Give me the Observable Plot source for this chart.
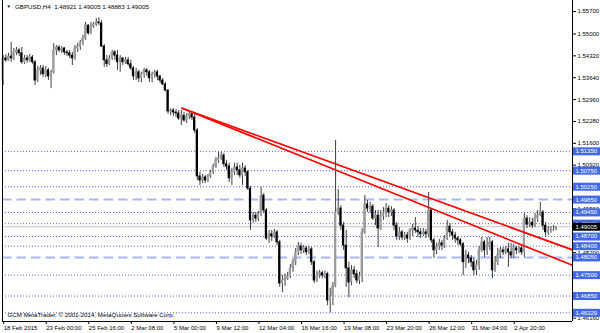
<!DOCTYPE html>
<html>
<head>
<meta charset="utf-8">
<script src="https://cdn.jsdelivr.net/npm/d3@7"></script>
<script src="https://cdn.jsdelivr.net/npm/@observablehq/plot@0.6"></script>
<style>
  html, body { margin: 0; padding: 0; background: #fff; }
  #chart { width: 600px; height: 333px; }
</style>
</head>
<body>
<div id="chart"></div>
<script>
// ---- Data (GBPUSD, H4, one value per bar) ----
const open = [
1.5355,1.5424,1.5418,1.5430,1.5424,1.5443,1.5449,1.5440,1.5412,1.5424,
1.5418,1.5427,1.5412,1.5355,1.5387,1.5393,1.5375,1.5387,1.5368,1.5381,
1.5449,1.5458,1.5449,1.5455,1.5443,1.5440,1.5433,1.5424,1.5455,1.5461,
1.5474,1.5486,1.5526,1.5502,1.5523,1.5529,1.5536,1.5533,1.5461,1.5418,
1.5406,1.5424,1.5443,1.5433,1.5412,1.5424,1.5412,1.5418,1.5406,1.5393,
1.5368,1.5381,1.5362,1.5375,1.5387,1.5381,1.5362,1.5375,1.5381,1.5368,
1.5355,1.5343,1.5324,1.5259,1.5262,1.5256,1.5253,1.5237,1.5246,1.5231,
1.5243,1.5250,1.5240,1.5200,1.5057,1.5044,1.5054,1.5044,1.5057,1.5070,
1.5088,1.5107,1.5113,1.5122,1.5095,1.5088,1.5051,1.5070,1.5085,1.5076,
1.5060,1.5082,1.5070,1.5019,1.4920,1.4935,1.4926,1.4939,1.4997,1.4951,
1.4864,1.4877,1.4870,1.4883,1.4852,1.4724,1.4733,1.4739,1.4746,1.4771,
1.4790,1.4821,1.4839,1.4827,1.4833,1.4821,1.4830,1.4790,1.4733,1.4749,
1.4756,1.4749,1.4753,1.4671,1.4683,1.4717,1.4945,1.4957,1.4904,1.4842,
1.4771,1.4727,1.4765,1.4753,1.4733,1.4746,1.4883,1.4970,1.4957,1.4963,
1.4926,1.4935,1.4895,1.4935,1.4942,1.4957,1.4945,1.4951,1.4904,1.4870,
1.4883,1.4867,1.4873,1.4864,1.4889,1.4895,1.4889,1.4883,1.4877,1.4883,
1.4877,1.4951,1.4858,1.4827,1.4839,1.4849,1.4842,1.4864,1.4901,1.4883,
1.4873,1.4864,1.4858,1.4846,1.4790,1.4811,1.4802,1.4790,1.4765,1.4780,
1.4827,1.4852,1.4827,1.4842,1.4852,1.4765,1.4790,1.4811,1.4827,1.4821,
1.4830,1.4821,1.4811,1.4833,1.4827,1.4833,1.4821,1.4926,1.4907,1.4913,
1.4904,1.4926,1.4935,1.4945,1.4904,1.4883,1.4889,1.4892,1.48921
];
const high = [
1.5433,1.5436,1.5440,1.5474,1.5455,1.5458,1.5455,1.5458,1.5433,1.5433,
1.5436,1.5433,1.5418,1.5399,1.5402,1.5402,1.5399,1.5393,1.5387,1.5470,
1.5464,1.5464,1.5461,1.5458,1.5449,1.5449,1.5443,1.5464,1.5470,1.5480,
1.5496,1.5536,1.5529,1.5536,1.5536,1.5548,1.5551,1.5542,1.5467,1.5433,
1.5433,1.5449,1.5449,1.5449,1.5433,1.5427,1.5427,1.5427,1.5418,1.5399,
1.5393,1.5387,1.5381,1.5393,1.5393,1.5387,1.5381,1.5387,1.5387,1.5371,
1.5362,1.5349,1.5327,1.5268,1.5268,1.5265,1.5262,1.5262,1.5256,1.5253,
1.5256,1.5256,1.5250,1.5206,1.5070,1.5063,1.5060,1.5063,1.5076,1.5095,
1.5116,1.5132,1.5132,1.5129,1.5107,1.5098,1.5082,1.5098,1.5098,1.5091,
1.5098,1.5091,1.5076,1.5026,1.4945,1.4945,1.4948,1.5023,1.5004,1.4957,
1.4889,1.4889,1.4892,1.4889,1.4858,1.4749,1.4753,1.4759,1.4783,1.4799,
1.4833,1.4852,1.4849,1.4842,1.4839,1.4839,1.4836,1.4796,1.4762,1.4765,
1.4762,1.4762,1.4759,1.4709,1.4727,1.5169,1.5016,1.4966,1.4914,1.4889,
1.4790,1.4780,1.4777,1.4765,1.4759,1.4895,1.4998,1.4982,1.4976,1.4970,
1.4951,1.4951,1.4951,1.4960,1.4973,1.4966,1.4963,1.4957,1.4914,1.4898,
1.4889,1.4883,1.4883,1.4895,1.4908,1.4929,1.4901,1.4895,1.4895,1.4892,
1.5007,1.4957,1.4864,1.4849,1.4861,1.4858,1.4873,1.4920,1.4911,1.4892,
1.4883,1.4870,1.4864,1.4852,1.4827,1.4821,1.4811,1.4802,1.4796,1.4839,
1.4867,1.4858,1.4867,1.4867,1.4858,1.4808,1.4833,1.4836,1.4836,1.4839,
1.4849,1.4849,1.4846,1.4839,1.4839,1.4839,1.4942,1.4935,1.4929,1.4926,
1.4942,1.4951,1.4976,1.4951,1.4914,1.4901,1.4901,1.4904,1.49005
];
const low = [
1.5340,1.5412,1.5415,1.5412,1.5418,1.5433,1.5430,1.5406,1.5406,1.5409,
1.5412,1.5406,1.5340,1.5349,1.5371,1.5365,1.5365,1.5355,1.5330,1.5375,
1.5433,1.5443,1.5440,1.5433,1.5430,1.5424,1.5402,1.5418,1.5443,1.5449,
1.5464,1.5480,1.5496,1.5499,1.5517,1.5523,1.5526,1.5458,1.5396,1.5396,
1.5402,1.5418,1.5418,1.5387,1.5381,1.5402,1.5406,1.5399,1.5387,1.5355,
1.5355,1.5349,1.5349,1.5362,1.5368,1.5349,1.5349,1.5362,1.5355,1.5346,
1.5340,1.5321,1.5250,1.5246,1.5243,1.5240,1.5231,1.5215,1.5225,1.5222,
1.5234,1.5231,1.5191,1.5044,1.5029,1.5035,1.5035,1.5038,1.5051,1.5063,
1.5082,1.5098,1.5107,1.5085,1.5076,1.5038,1.5029,1.5060,1.5060,1.5051,
1.5029,1.5057,1.5013,1.4889,1.4911,1.4914,1.4917,1.4932,1.4942,1.4858,
1.4849,1.4855,1.4864,1.4842,1.4712,1.4696,1.4715,1.4733,1.4739,1.4759,
1.4780,1.4811,1.4814,1.4817,1.4811,1.4814,1.4780,1.4724,1.4727,1.4739,
1.4739,1.4739,1.4655,1.46329,1.4655,1.4712,1.4935,1.4889,1.4827,1.4712,
1.4680,1.4717,1.4739,1.4724,1.4721,1.4727,1.4877,1.4945,1.4942,1.4920,
1.4904,1.4836,1.4889,1.4920,1.4929,1.4929,1.4932,1.4889,1.4858,1.4858,
1.4858,1.4858,1.4849,1.4858,1.4870,1.4880,1.4867,1.4864,1.4870,1.4864,
1.4867,1.4849,1.4802,1.4814,1.4827,1.4827,1.4833,1.4858,1.4870,1.4858,
1.4849,1.4842,1.4839,1.4749,1.4771,1.4786,1.4774,1.4749,1.4749,1.4765,
1.4821,1.4805,1.4811,1.4827,1.4739,1.4759,1.4780,1.4802,1.4811,1.4814,
1.4774,1.4802,1.4802,1.4814,1.4817,1.4811,1.4805,1.4895,1.4898,1.4895,
1.4898,1.4914,1.4932,1.4889,1.4867,1.4873,1.4880,1.4886,1.48883
];
const close = [
1.5424,1.5418,1.5430,1.5424,1.5443,1.5449,1.5440,1.5412,1.5424,1.5418,
1.5427,1.5412,1.5355,1.5387,1.5393,1.5375,1.5387,1.5368,1.5381,1.5449,
1.5458,1.5449,1.5455,1.5443,1.5440,1.5433,1.5424,1.5455,1.5461,1.5474,
1.5486,1.5526,1.5502,1.5523,1.5529,1.5536,1.5533,1.5461,1.5418,1.5406,
1.5424,1.5443,1.5433,1.5412,1.5424,1.5412,1.5418,1.5406,1.5393,1.5368,
1.5381,1.5362,1.5375,1.5387,1.5381,1.5362,1.5375,1.5381,1.5368,1.5355,
1.5343,1.5324,1.5259,1.5262,1.5256,1.5253,1.5237,1.5246,1.5231,1.5243,
1.5250,1.5240,1.5200,1.5057,1.5044,1.5054,1.5044,1.5057,1.5070,1.5088,
1.5107,1.5113,1.5122,1.5095,1.5088,1.5051,1.5070,1.5085,1.5076,1.5060,
1.5082,1.5070,1.5019,1.4920,1.4935,1.4926,1.4939,1.4997,1.4951,1.4864,
1.4877,1.4870,1.4883,1.4852,1.4724,1.4733,1.4739,1.4746,1.4771,1.4790,
1.4821,1.4839,1.4827,1.4833,1.4821,1.4830,1.4790,1.4733,1.4749,1.4756,
1.4749,1.4753,1.4671,1.4683,1.4717,1.4945,1.4957,1.4904,1.4842,1.4771,
1.4727,1.4765,1.4753,1.4733,1.4746,1.4883,1.4970,1.4957,1.4963,1.4926,
1.4935,1.4895,1.4935,1.4942,1.4957,1.4945,1.4951,1.4904,1.4870,1.4883,
1.4867,1.4873,1.4864,1.4889,1.4895,1.4889,1.4883,1.4877,1.4883,1.4877,
1.4951,1.4858,1.4827,1.4839,1.4849,1.4842,1.4864,1.4901,1.4883,1.4873,
1.4864,1.4858,1.4846,1.4790,1.4811,1.4802,1.4790,1.4765,1.4780,1.4827,
1.4852,1.4827,1.4842,1.4852,1.4765,1.4790,1.4811,1.4827,1.4821,1.4830,
1.4821,1.4811,1.4833,1.4827,1.4833,1.4821,1.4926,1.4907,1.4913,1.4904,
1.4926,1.4935,1.4945,1.4904,1.4883,1.4889,1.4892,1.48921,1.49005
];

// Time axis: bar index of each label, and its text
const timeTickBars = [0,16,32,48,64,80,96,112,128,144,160,176,192];
const timeLabels = ["18 Feb 2015","23 Feb 00:00","25 Feb 16:00","2 Mar 08:00","5 Mar 00:00",
  "9 Mar 12:00","12 Mar 04:00","16 Mar 16:00","19 Mar 08:00","23 Mar 20:00",
  "26 Mar 12:00","31 Mar 04:00","2 Apr 20:00"];

// Price axis ticks (those fully covered by level labels are not shown)
const priceTicks = [1.557,1.55,1.5432,1.5364,1.5296,1.5228,1.516,1.5092,1.4956,1.482,1.4616];

// Horizontal levels
const dottedLevels = [1.5135,1.5075,1.5025,1.4945,1.4910,1.4870,1.4840,1.4750,1.4685,1.46329];
const dashedLevels = [1.4985,1.4805];
const bidPrice = 1.49005;

// Trendlines (bar index / price anchors)
const trendX1 = [67.05, 67.05];
const trendY1 = [1.52698, 1.52698];
const trendX2 = [214.1, 214.1];
const trendY2 = [1.48285, 1.47806];

const headerText = "GBPUSD,H4  1.48921 1.49005 1.48883 1.49005";
const footerText = "GCM MetaTrader, \u00A9 2001-2014, MetaQuotes Software Corp.";

// ---- build ----
const bars = close.map((c, i) => ({i, o: open[i], h: high[i], l: low[i], c}));
const trends = trendX1.map((x1, k) => ({x1, y1: trendY1[k], x2: trendX2[k], y2: trendY2[k]}));
const boxLevels = dottedLevels.concat(dashedLevels);

const xDomain = [-0.263, 214.1];
const yDomain = [1.46058, 1.56042];
const boxL = 214.48, boxR = 224.8, boxText = 215.2;
const fmt = d3.format(".5f");
const blue = "#4169e1";

const chart = Plot.plot({
  width: 600,
  height: 333,
  marginLeft: 2,
  marginRight: 28,
  marginTop: 0,
  marginBottom: 12,
  x: {domain: xDomain},
  y: {domain: yDomain},
  style: {fontFamily: "'Liberation Sans', Arial, sans-serif", fontSize: "6px", background: "#fff", color: "#000", overflow: "visible"},
  marks: [
    // level lines
    Plot.ruleY(dottedLevels, {y: d => d, stroke: "#4a68e0", strokeWidth: 1, strokeDasharray: "1,2"}),
    Plot.ruleY(dashedLevels, {y: d => d, stroke: "#a9b8f3", strokeWidth: 2, strokeDasharray: "9.5,5"}),
    Plot.ruleY([bidPrice], {y: d => d, stroke: "#c4c4c4", strokeWidth: 1}),
    // candles
    Plot.ruleX(bars, {x: "i", y1: "l", y2: "h", stroke: "#2a2a2a", strokeWidth: 0.9}),
    Plot.rect(bars, {
      x1: d => d.i - 0.42, x2: d => d.i + 0.42, y1: "o", y2: "c",
      fill: d => d.c >= d.o ? "#9c9c9c" : "#000000",
      insetTop: -0.4, insetBottom: -0.4
    }),
    // trend lines
    Plot.link(trends, {x1: "x1", y1: "y1", x2: "x2", y2: "y2", stroke: "#ff0000", strokeWidth: 1.7}),
    // chart border
    Plot.ruleX(xDomain, {x: d => d, stroke: "#000", strokeWidth: 1}),
    Plot.ruleY([yDomain[0]], {y: d => d, stroke: "#000", strokeWidth: 1}),
    // axes
    Plot.axisY({anchor: "right", ticks: priceTicks, tickFormat: fmt, tickSize: 3, tickPadding: 2, fontSize: 6}),
    Plot.axisX({anchor: "bottom", ticks: timeTickBars, tickFormat: d => timeLabels[timeTickBars.indexOf(d)],
      tickSize: 3, tickPadding: 1, textAnchor: "start", dx: 0.5, fontSize: 6}),
    // price labels on the scale
    Plot.ruleY(boxLevels, {y: d => d, x1: boxL, x2: boxR, stroke: blue, strokeWidth: 8}),
    Plot.text(boxLevels, {y: d => d, x: boxText, text: d => fmt(d), fill: "#fff", textAnchor: "start", fontSize: 6}),
    Plot.ruleY([bidPrice], {y: d => d, x1: boxL, x2: boxR, stroke: "#000", strokeWidth: 8}),
    Plot.text([bidPrice], {y: d => d, x: boxText, text: d => fmt(d), fill: "#fff", textAnchor: "start", fontSize: 6}),
    // header & footer
    Plot.text(["\u25BC"], {frameAnchor: "top-left", dx: 4, dy: 6.5, textAnchor: "start", lineAnchor: "middle", fontSize: 4.5}),
    Plot.text([headerText], {frameAnchor: "top-left", dx: 12.5, dy: 7, textAnchor: "start", lineAnchor: "middle", fontSize: 6.2}),
    Plot.text([footerText], {frameAnchor: "bottom-left", dx: 5, dy: -6, textAnchor: "start", lineAnchor: "middle", fontSize: 6.2})
  ]
});
document.getElementById("chart").appendChild(chart);
</script>
</body>
</html>
